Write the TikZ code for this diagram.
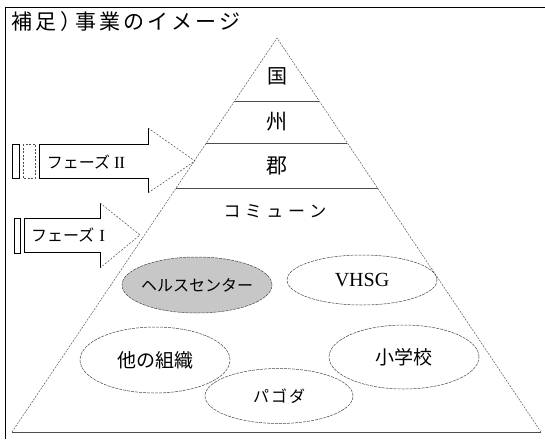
\documentclass[tikz,border=0pt]{standalone}
\usepackage{fontspec}
\setmainfont{Liberation Serif}
\newfontfamily\jp{Noto Sans CJK JP}
\usetikzlibrary{shapes.geometric}
\newcommand\ks[1]{\kern#1pt}
\begin{document}
\begin{tikzpicture}[x=1pt,y=-1pt,
  frameline/.style={line width=0.8pt,black},
  pyredge/.style={gray!70!black,line width=0.5pt,dash pattern=on 2pt off 1.2pt},
  levelline/.style={gray!60!black,line width=0.9pt},
  ell/.style={ellipse,draw=gray!55!black,line width=0.5pt,dash pattern=on 3pt off 1pt,inner sep=0pt},
  arrline/.style={black,line width=0.5pt},
  arrhead/.style={gray!60!black,line width=0.5pt,dash pattern=on 2pt off 1.5pt},
  jplabel/.style={font=\jp\fontsize{#1}{#1}\selectfont,inner sep=0pt},
]
\useasboundingbox (0,0) rectangle (545,439);
\fill[white] (0,0) rectangle (545,439);
% frame
\draw[frameline] (5,439) -- (5,7) -- (545,7);
% title
\node[jplabel=21,anchor=west] (title) at (11,22)
  {補\ks{3}足\ks{4}）\ks{-6}事\ks{3}業\ks{3}の\ks{3}イ\ks{3}メ\ks{3}ー\ks{3}ジ};
% pyramid
\coordinate (apex) at (277,38);
\coordinate (bl) at (12,432);
\coordinate (br) at (541,432);
\draw[pyredge] (bl) -- (apex) -- (br);
\draw[gray!60!black,line width=1pt] (bl) -- (br);
\coordinate (l1) at (234.6,101); \coordinate (r1) at (319.2,101);
\coordinate (l2) at (206.4,143); \coordinate (r2) at (347.4,143);
\coordinate (l3) at (176.1,188); \coordinate (r3) at (377.5,188);
\draw[levelline] (l1) -- (r1);
\draw[levelline] (l2) -- (r2);
\draw[levelline] (l3) -- (r3);
\node[jplabel=20] (kuni) at (277,76) {国};
\node[jplabel=21] (shu) at (277,122) {州};
\node[jplabel=21] (gun) at (277,166) {郡};
\node[jplabel=17] (commune) at (275,211) {コ\ks{4.5}ミ\ks{4.5}ュ\ks{4.5}ー\ks{4.5}ン};
% phase II arrow
\draw[arrline] (12,144) rectangle (19,178);
\draw[arrhead] (23,144) rectangle (35,178);
\coordinate (a2s1) at (39,144); \coordinate (a2h1) at (148,144);
\coordinate (a2t) at (148,128); \coordinate (a2tip) at (195,161);
\coordinate (a2b) at (148,193); \coordinate (a2h2) at (148,178);
\coordinate (a2s2) at (39,178);
\draw[arrline] (a2t) -- (a2h1) -- (a2s1) -- (a2s2) -- (a2h2) -- (a2b);
\draw[arrhead] (a2t) -- (a2tip) -- (a2b);
\node[jplabel=16] (phase2) at (86,162) {フェーズ\ks{4}{\rmfamily\fontsize{17}{17}\selectfont I\kern-0.5pt I}};
% phase I arrow
\draw[arrline] (14,218) rectangle (20,253);
\coordinate (a1s1) at (24,218); \coordinate (a1h1) at (100,218);
\coordinate (a1t) at (100,203); \coordinate (a1tip) at (140,235);
\coordinate (a1b) at (100,268); \coordinate (a1h2) at (100,252);
\coordinate (a1s2) at (24,252);
\draw[arrline] (a1t) -- (a1h1) -- (a1s1) -- (a1s2) -- (a1h2) -- (a1b);
\draw[arrhead] (a1t) -- (a1tip) -- (a1b);
\node[jplabel=16] (phase1) at (68,235) {フェーズ\ks{5}{\rmfamily\fontsize{17}{17}\selectfont I}};
% ellipses
\node[ell,fill=black!22,minimum width=150pt,minimum height=56pt] (hc) at (197,285) {};
\node[jplabel=16] at (hc.center) {ヘルスセンター};
\node[ell,minimum width=150pt,minimum height=50pt] (vhsg) at (362,280) {};
\node[font=\fontsize{20}{20}\selectfont,inner sep=0pt] at (vhsg.center) {VHSG};
\node[ell,minimum width=150pt,minimum height=66pt] (other) at (155,360) {};
\node[jplabel=19] at (other.center) {他の組織};
\node[ell,minimum width=150pt,minimum height=64pt] (school) at (404,357) {};
\node[jplabel=19] at (school.center) {小学校};
\node[ell,minimum width=148pt,minimum height=55pt] (pagoda) at (279,396) {};
\node[jplabel=16] at (pagoda.center) {パ\ks{2}ゴ\ks{2}ダ};
\end{tikzpicture}
\end{document}
